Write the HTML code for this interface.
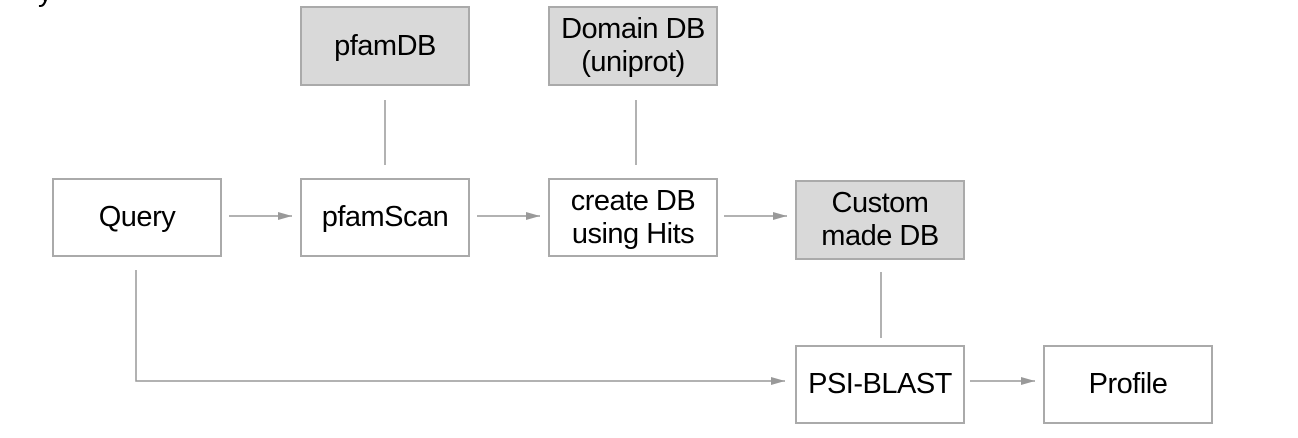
<!DOCTYPE html>
<html><head><style>
body{margin:0;width:1298px;height:438px;background:#fff;overflow:hidden;position:relative;font-family:"Liberation Sans",Arial,sans-serif}
.b{position:absolute;box-sizing:border-box;border:2px solid #aaa;background:#fff;display:flex;align-items:center;justify-content:center;text-align:center;font-size:29px;line-height:33px;color:#000;letter-spacing:-0.5px}
.g{background:#d9d9d9}
</style></head><body>
<div style="position:absolute;left:38px;top:-24px;font-size:29px">y</div>
<svg width="1298" height="438" style="position:absolute;left:0;top:0">
<defs><marker id="a" markerWidth="14" markerHeight="8" refX="14" refY="4" orient="auto" markerUnits="userSpaceOnUse"><path d="M0,0 L14,4 L0,8z" fill="#999"/></marker></defs>
<g stroke="#999" stroke-width="1.5" fill="none">
<line x1="385" y1="100" x2="385" y2="165"/>
<line x1="636" y1="100" x2="636" y2="165"/>
<line x1="881" y1="272" x2="881" y2="338"/>
<line x1="229" y1="216" x2="292" y2="216" marker-end="url(#a)"/>
<line x1="477" y1="216" x2="540" y2="216" marker-end="url(#a)"/>
<line x1="724" y1="216" x2="787" y2="216" marker-end="url(#a)"/>
<polyline points="136,270 136,381 785,381" marker-end="url(#a)"/>
<line x1="970" y1="381" x2="1035" y2="381" marker-end="url(#a)"/>
</g></svg>
<div class="b g" style="left:300px;top:6px;width:170px;height:80px">pfamDB</div>
<div class="b g" style="left:548px;top:6px;width:170px;height:80px">Domain DB<br>(uniprot)</div>
<div class="b" style="left:52px;top:178px;width:170px;height:79px">Query</div>
<div class="b" style="left:300px;top:178px;width:170px;height:79px">pfamScan</div>
<div class="b" style="left:548px;top:178px;width:170px;height:79px">create DB<br>using Hits</div>
<div class="b g" style="left:795px;top:180px;width:170px;height:80px">Custom<br>made DB</div>
<div class="b" style="left:795px;top:345px;width:170px;height:79px">PSI-BLAST</div>
<div class="b" style="left:1043px;top:345px;width:170px;height:79px">Profile</div>
</body></html>
